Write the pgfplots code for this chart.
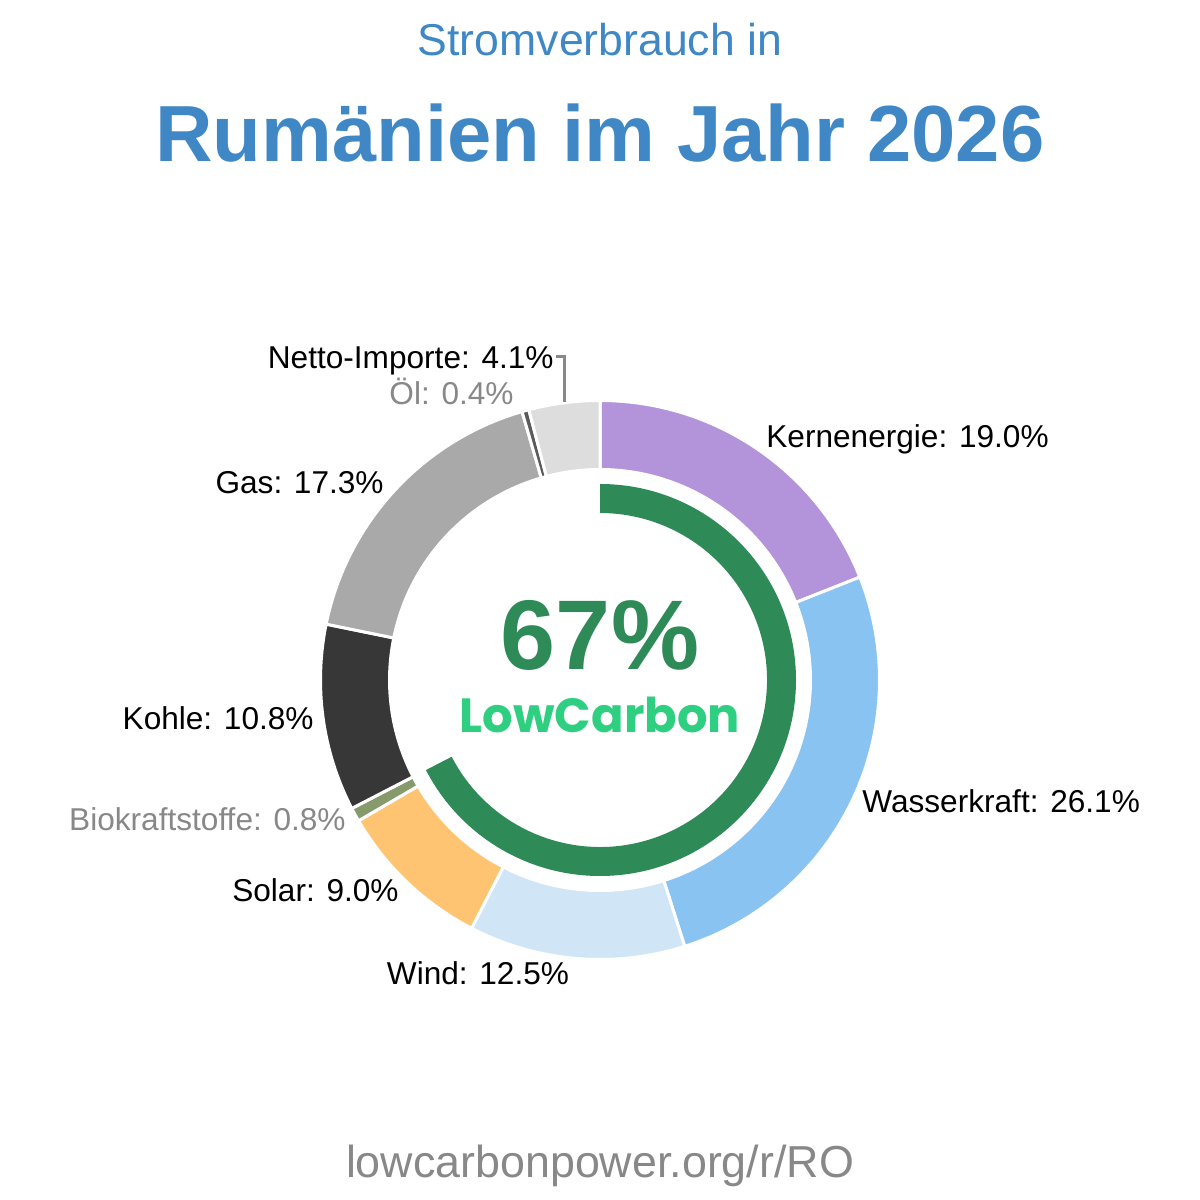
\documentclass[border=0pt]{standalone}
\usepackage{pgfplots}
\pgfplotsset{compat=1.18}
\usepackage{pgfplotstable}
\usepackage{fontspec}
\setmainfont{Liberation Sans}
\newfontfamily\poppins{Poppins}
\definecolor{cKern}{HTML}{B394DB}
\definecolor{cWasser}{HTML}{88C3F2}
\definecolor{cWind}{HTML}{D0E6F6}
\definecolor{cSolar}{HTML}{FEC471}
\definecolor{cBio}{HTML}{879A6B}
\definecolor{cKohle}{HTML}{373737}
\definecolor{cGas}{HTML}{A9A9A9}
\definecolor{cOel}{HTML}{5A5A5A}
\definecolor{cNetto}{HTML}{DDDDDD}
\definecolor{cGreen}{HTML}{2E8B57}
\definecolor{cLow}{HTML}{2ECF80}
\definecolor{cTitle}{HTML}{3F88C5}
\definecolor{cGrayT}{HTML}{888888}

% share of electricity consumption (%), clockwise from the top
\pgfplotstableread{
name value color
Kernenergie 19.0 cKern
Wasserkraft 26.1 cWasser
Wind 12.5 cWind
Solar 9.0 cSolar
Biokraftstoffe 0.8 cBio
Kohle 10.8 cKohle
Gas 17.3 cGas
Oel 0.4 cOel
Netto-Importe 4.1 cNetto
}\mix
\def\lowcarbonshare{67.4}

\newcommand\fs[1]{\fontsize{#1}{1.2\dimexpr#1\relax}\selectfont}

\begin{document}
\begin{tikzpicture}
\begin{axis}[width=600pt,height=600pt,scale only axis,
  xmin=0,xmax=1200,ymin=0,ymax=1200,hide axis,clip=false]
\path (axis cs:0,0) (axis cs:1200,1200);
\pgfplotstablegetrowsof{\mix}
\pgfmathtruncatemacro\N{\pgfplotsretval-1}
\def\cum{0}
\def\cx{600}\def\cy{520}
\def\Ro{279.5}\def\Ri{210.5}
\pgfplotsforeachungrouped \i in {0,...,\N}{%
  \pgfplotstablegetelem{\i}{value}\of\mix \let\v\pgfplotsretval
  \pgfplotstablegetelem{\i}{color}\of\mix \let\c\pgfplotsretval
  \pgfmathsetmacro\aa{90-3.6*\cum}%
  \pgfmathsetmacro\ab{90-3.6*(\cum+\v)}%
  \pgfmathsetmacro\xa{\cx+\Ro*cos(\aa)}%
  \pgfmathsetmacro\ya{\cy+\Ro*sin(\aa)}%
  \pgfmathsetmacro\xb{\cx+\Ri*cos(\ab)}%
  \pgfmathsetmacro\yb{\cy+\Ri*sin(\ab)}%
  \pgfmathsetmacro\rop{\Ro/2}%
  \pgfmathsetmacro\rip{\Ri/2}%
  \edef\temp{\noexpand\fill[\c,draw=white,line width=1.5pt,line join=miter]
    (axis cs:\xa,\ya) arc[start angle=\aa,end angle=\ab,radius=\rop pt]
    -- (axis cs:\xb,\yb) arc[start angle=\ab,end angle=\aa,radius=\rip pt] -- cycle;}%
  \temp
  \pgfmathsetmacro\cum{\cum+\v}%
}
% low-carbon ring
\pgfmathsetmacro\ga{90}
\pgfmathsetmacro\gb{90-3.6*\lowcarbonshare}
\pgfmathsetmacro\gxa{\cx+196*cos(\ga)}
\pgfmathsetmacro\gya{\cy+196*sin(\ga)}
\pgfmathsetmacro\gxb{\cx+167*cos(\gb)}
\pgfmathsetmacro\gyb{\cy+167*sin(\gb)}
\edef\temp{\noexpand\fill[cGreen] (axis cs:\gxa,\gya) arc[start angle=\ga,end angle=\gb,radius=98pt]
  -- (axis cs:\gxb,\gyb) arc[start angle=\gb,end angle=\ga,radius=83.5pt] -- cycle;}
\temp

% labels
\tikzset{lab/.style={inner sep=0pt,font=\fs{15.8pt}}}
\node[lab,anchor=base west] at (axis cs:766,752.5) {Kernenergie: 19.0\%};
\node[lab,anchor=base west] at (axis cs:862,387.5) {Wasserkraft: 26.1\%};
\node[lab,anchor=base] at (axis cs:478,215.5) {Wind: 12.5\%};
\node[lab,anchor=base east] at (axis cs:399,298.5) {Solar: 9.0\%};
\node[lab,anchor=base east,text=cGrayT] at (axis cs:346,369.5) {Biokraftstoffe: 0.8\%};
\node[lab,anchor=base east] at (axis cs:314,470.5) {Kohle: 10.8\%};
\node[lab,anchor=base east] at (axis cs:384,706.5) {Gas: 17.3\%};
\node[lab,anchor=base east,text=cGrayT] at (axis cs:514,795.5) {Öl: 0.4\%};
\node[lab,anchor=base east] at (axis cs:554,831.5) {Netto-Importe: 4.1\%};
\draw[cGrayT,line width=1.5pt] (axis cs:556,843) -- (axis cs:564,843) -- (axis cs:564,798);

% centre
\node[inner sep=0pt,anchor=base,text=cGreen,font=\fs{49.5pt}\bfseries] at (axis cs:600,530.5) {67\%};
\node[inner sep=0pt,anchor=base,text=cLow] at (axis cs:600,467) {\resizebox{140pt}{!}{\poppins\bfseries LowCarbon}};

% titles
\node[inner sep=0pt,anchor=base,text=cTitle,font=\fs{22.3pt}] at (axis cs:600,1144) {Stromverbrauch in};
\node[inner sep=0pt,anchor=base,text=cTitle,font=\fs{39.8pt}\bfseries] at (axis cs:600,1038.5) {Rumänien im Jahr 2026};
\node[inner sep=0pt,anchor=base,text=cGrayT,font=\fs{22.4pt}] at (axis cs:600,22) {lowcarbonpower.org/r/RO};
\end{axis}
\end{tikzpicture}
\end{document}
